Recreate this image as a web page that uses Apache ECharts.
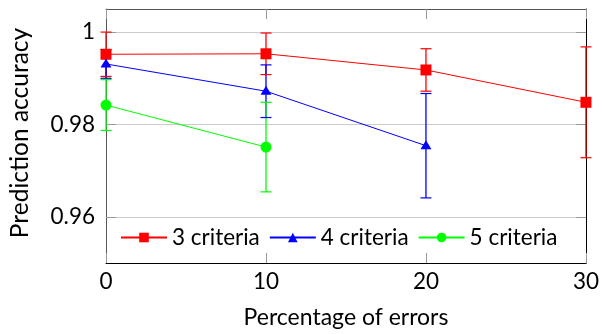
<!DOCTYPE html>
<html>
<head>
<meta charset="utf-8">
<script src="https://cdn.jsdelivr.net/npm/echarts@6/dist/echarts.min.js"></script>
<style>
  html, body { margin: 0; padding: 0; background: #fff; }
  #chart { width: 602px; height: 334px; }
</style>
</head>
<body>
<div id="chart"></div>
<script>
// Prediction accuracy versus percentage of errors, with error bars
const errorRates = [0, 10, 20, 30];
const yTicks = [0.96, 0.98, 1];

const acc3 = [0.9952, 0.9953, 0.9918, 0.9848];
const dev3 = [0.0048, 0.0045, 0.0046, 0.0120];

const acc4 = [0.9931, 0.9872, 0.9754];
const dev4 = [0.0031, 0.0057, 0.0113];

const acc5 = [0.9842, 0.9751];
const dev5 = [0.0055, 0.0097];

const names = ['3 criteria', '4 criteria', '5 criteria'];
const colors = ['#ff0000', '#0000ff', '#00ff00'];

const FONT = 'Lato';

function points(acc) {
  return acc.map((v, i) => [errorRates[i], v]);
}

// one broken polyline per series: a vertical segment from mean-dev to mean+dev
// at every x, separated by empty points; the flat caps are the segment symbols
function barPoints(acc, dev) {
  const out = [];
  acc.forEach((v, i) => {
    out.push([errorRates[i], v - dev[i]]);
    out.push([errorRates[i], v + dev[i]]);
    out.push([errorRates[i], '-']);
  });
  return out;
}

function errorBarSeries(acc, dev, color, id) {
  return {
    type: 'line',
    id: id,
    xAxisIndex: 0,
    yAxisIndex: 0,
    data: barPoints(acc, dev),
    connectNulls: false,
    clip: false,
    silent: true,
    z: 2,
    symbol: 'rect',
    symbolSize: [11, 1.2],
    showAllSymbol: true,
    lineStyle: { color: color, width: 1.3 },
    itemStyle: { color: color, borderWidth: 0 },
    emphasis: { disabled: true },
    animation: false
  };
}

function lineSeries(name, acc, color, symbol, size, offset) {
  return {
    type: 'line',
    name: name,
    xAxisIndex: 0,
    yAxisIndex: 0,
    data: points(acc),
    clip: false,
    z: 3,
    symbol: symbol,
    symbolSize: size,
    symbolOffset: offset || [0, 0],
    showAllSymbol: true,
    lineStyle: { color: color, width: 1 },
    itemStyle: { color: color, borderWidth: 0, opacity: 1 },
    emphasis: { disabled: true },
    animation: false
  };
}

const chart = echarts.init(document.getElementById('chart'), null, { renderer: 'canvas' });

const yBase = {
  type: 'value',
  min: 0.95,
  max: 1.005
};

chart.setOption({
  animation: false,
  backgroundColor: '#ffffff',
  textStyle: { fontFamily: FONT },
  grid: { left: 103, right: 13, top: 9, bottom: 67, containLabel: false },
  legend: {
    data: names,
    left: 120,
    top: 226,
    padding: 0,
    itemWidth: 46,
    itemHeight: 12,
    itemGap: 9,
    textStyle: { fontFamily: FONT, fontSize: 22.5, color: '#000' },
    selectedMode: false
  },
  xAxis: [
    {
      type: 'value',
      position: 'bottom',
      min: 0,
      max: 30,
      interval: 10,
      name: 'Percentage of errors',
      nameLocation: 'middle',
      nameGap: 43,
      nameTextStyle: { fontFamily: FONT, fontSize: 23, color: '#000' },
      axisLine: { show: true, onZero: false, lineStyle: { color: '#000', width: 1 } },
      axisTick: { show: true, inside: true, length: 10, lineStyle: { color: '#999' } },
      axisLabel: { fontFamily: FONT, fontSize: 22.5, color: '#000', margin: 7 },
      splitLine: { show: false }
    },
    {
      type: 'value',
      position: 'top',
      min: 0,
      max: 30,
      interval: 10,
      axisLine: { show: true, onZero: false, lineStyle: { color: '#555', width: 1 } },
      axisTick: { show: true, inside: true, length: 10, lineStyle: { color: '#999' } },
      axisLabel: { show: false },
      splitLine: { show: false }
    }
  ],
  yAxis: [
    Object.assign({}, yBase, {
      position: 'left',
      name: 'Prediction accuracy',
      nameLocation: 'middle',
      nameGap: 73,
      nameTextStyle: { fontFamily: FONT, fontSize: 24.5, color: '#000', padding: [0, 0, 0, 6] },
      axisLine: { show: true, onZero: false, lineStyle: { color: '#555', width: 1 } },
      axisTick: { show: true, inside: true, length: 10, customValues: yTicks, lineStyle: { color: '#999' } },
      axisLabel: { fontFamily: FONT, fontSize: 22.5, color: '#000', margin: 11, customValues: yTicks,
        formatter: v => String(v) },
      splitLine: { show: true, lineStyle: { color: '#cccccc', width: 1 } }
    }),
    Object.assign({}, yBase, {
      position: 'right',
      axisLine: { show: true, onZero: false, lineStyle: { color: '#000', width: 1 } },
      axisTick: { show: true, inside: true, length: 10, customValues: yTicks, lineStyle: { color: '#999' } },
      axisLabel: { show: false, customValues: yTicks },
      splitLine: { show: false }
    })
  ],
  series: [
    errorBarSeries(acc3, dev3, colors[0], 'bars3'),
    lineSeries(names[0], acc3, colors[0], 'rect', 11),
    errorBarSeries(acc4, dev4, colors[1], 'bars4'),
    lineSeries(names[1], acc4, colors[1], 'triangle', [11, 9], [0, -1]),
    errorBarSeries(acc5, dev5, colors[2], 'bars5'),
    lineSeries(names[2], acc5, colors[2], 'circle', 11)
  ]
});
</script>
</body>
</html>
